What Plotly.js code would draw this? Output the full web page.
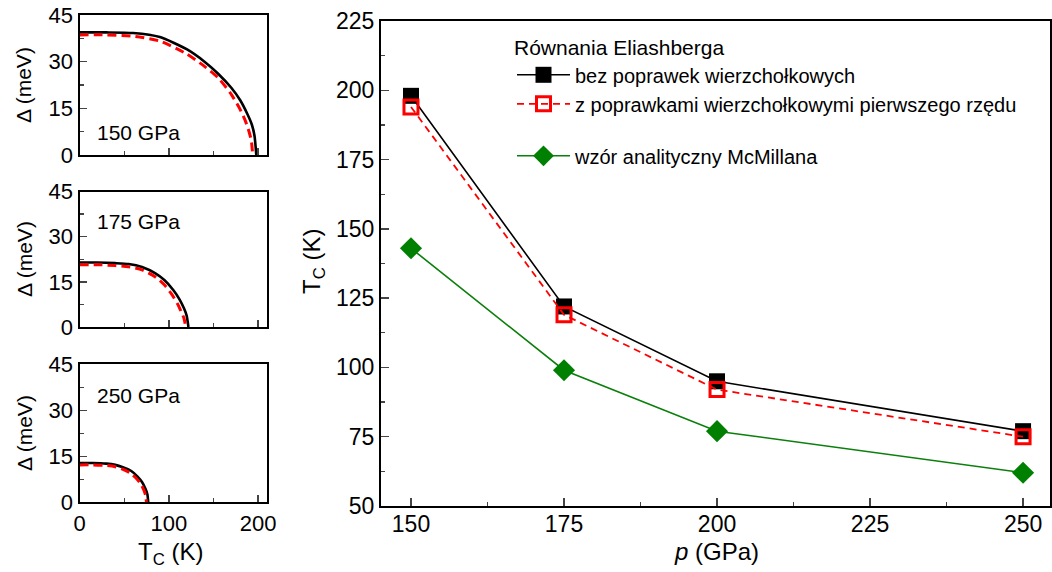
<!DOCTYPE html>
<html>
<head>
<meta charset="utf-8">
<script src="https://cdn.plot.ly/plotly-3.0.1.min.js"></script>
<style>html,body{margin:0;padding:0;background:#fff}#chart{width:1052px;height:572px}</style>
</head>
<body>
<div id="chart"></div>
<script>
// ---- Main panel data: Tc vs pressure ----
const pressure = [150, 175, 200, 250];
const tcNoVertex = [198, 122, 95, 77];
const tcVertex = [194, 119, 92, 75];
const tcMcMillan = [143, 99, 77, 62];

// ---- Gap vs temperature, 150 GPa ----
const T150_black = [0, 30, 60, 90, 120, 140, 155, 170, 180, 188, 193, 196, 198];
const D150_black = [39.4, 39.4, 39.2, 37.9, 34.0, 30.0, 26.2, 21.6, 17.6, 13.2, 9.8, 6.2, 0];
const T150_red = [0, 30, 60, 90, 120, 140, 155, 170, 180, 186, 190, 192.5, 194];
const D150_red = [38.6, 38.6, 38.2, 36.6, 32.5, 28.5, 24.9, 19.5, 14.6, 10.8, 7.4, 4.5, 0];

// ---- 175 GPa ----
const T175_black = [0, 20, 40, 55, 70, 85, 95, 105, 112, 117, 120, 122];
const D175_black = [21.4, 21.4, 21.2, 20.9, 19.9, 17.8, 15.6, 12.3, 9.2, 6.2, 3.8, 0];
const T175_red = [0, 20, 40, 55, 70, 85, 95, 103, 110, 114, 117, 119];
const D175_red = [20.7, 20.7, 20.4, 20.0, 19.0, 16.6, 14.0, 11.0, 7.6, 5.0, 2.9, 0];

// ---- 250 GPa ----
const T250_black = [0, 15, 30, 40, 50, 58, 65, 70, 74, 76, 77];
const D250_black = [12.8, 12.8, 12.6, 12.2, 11.3, 10.2, 8.4, 6.6, 4.3, 2.6, 0];
const T250_red = [0, 15, 30, 40, 50, 58, 64, 69, 72, 74, 75];
const D250_red = [12.2, 12.2, 12.0, 11.6, 10.6, 9.3, 7.7, 5.8, 4.0, 2.3, 0];

const panelLabels = ['150 GPa', '175 GPa', '250 GPa'];
const legendTitle = 'Równania Eliashberga';
const seriesNames = ['bez poprawek wierzchołkowych', 'z poprawkami wierzchołkowymi pierwszego rzędu', 'wzór analityczny McMillana'];

const FONT = 'Liberation Sans, Arial, sans-serif';
const W = 1052, H = 572;
const px = v => v / W;
const py = v => 1 - v / H;

const traces = [];
// left panels
const gapSets = [
  [T150_black, D150_black, T150_red, D150_red, 'x2', 'y2'],
  [T175_black, D175_black, T175_red, D175_red, 'x3', 'y3'],
  [T250_black, D250_black, T250_red, D250_red, 'x4', 'y4']
];
gapSets.forEach(s => {
  traces.push({x: s[0], y: s[1], xaxis: s[4], yaxis: s[5], mode: 'lines', showlegend: false,
    line: {color: '#000', width: 2.6, shape: 'spline', smoothing: 0.6}, hoverinfo: 'skip'});
  traces.push({x: s[2], y: s[3], xaxis: s[4], yaxis: s[5], mode: 'lines', showlegend: false,
    line: {color: '#ff0000', width: 3, dash: '9px,5px', shape: 'spline', smoothing: 0.6}, hoverinfo: 'skip'});
});

// main panel
traces.push({x: pressure, y: tcNoVertex, mode: 'lines+markers', name: seriesNames[0], legendgroup: 'a',
  line: {color: '#000', width: 1.6}, marker: {symbol: 'square', size: 16, color: '#000'}});
traces.push({x: pressure, y: tcVertex, mode: 'lines+markers', name: seriesNames[1], legendgroup: 'a',
  line: {color: '#ff0000', width: 1.8, dash: '7px,5px'},
  marker: {symbol: 'square-open', size: 14, color: '#ff0000', line: {color: '#ff0000', width: 3}}});
traces.push({x: pressure, y: tcMcMillan, mode: 'lines+markers', name: seriesNames[2], legendgroup: 'b',
  line: {color: '#0b7f0b', width: 1.6}, marker: {symbol: 'diamond', size: 17, color: '#008000'}});

const smallY = (dom) => ({
  domain: dom, range: [0, 45], tickvals: [0, 15, 30, 45], ticks: 'inside', ticklen: 7, tickwidth: 1.5,
  minor: {dtick: 7.5, ticks: 'inside', ticklen: 4, tickwidth: 1.2, tick0: 0},
  showline: true, mirror: true, linewidth: 2, linecolor: '#000', showgrid: false, zeroline: false,
  tickfont: {family: FONT, size: 22, color: '#000'}, fixedrange: true
});
const smallX = (anchor, labels) => ({
  domain: [px(79.5), px(267)], range: [0, 210], tickvals: [0, 100, 200], ticks: 'inside', ticklen: 7, tickwidth: 1.5,
  minor: {dtick: 50, ticks: 'inside', ticklen: 4, tickwidth: 1.2, tick0: 0},
  showline: true, mirror: true, linewidth: 2, linecolor: '#000', showgrid: false, zeroline: false,
  showticklabels: labels, anchor: anchor, tickfont: {family: FONT, size: 22, color: '#000'}, fixedrange: true
});

const ann = (text, x, y, size, angle, xa) => ({text: text, xref: 'paper', yref: 'paper', x: px(x), y: py(y),
  xanchor: xa || 'center', yanchor: 'middle', textangle: angle || 0, showarrow: false,
  font: {family: FONT, size: size, color: '#000'}});

const layout = {
  width: W, height: H, margin: {l: 0, r: 0, t: 0, b: 0},
  paper_bgcolor: '#fff', plot_bgcolor: '#fff',
  font: {family: FONT, color: '#000'},
  showlegend: true,
  legend: {x: px(512), y: py(28), xanchor: 'left', yanchor: 'top', bgcolor: 'rgba(0,0,0,0)',
    font: {family: FONT, size: 20, color: '#000'}, title: {text: legendTitle, font: {family: FONT, size: 21, color: '#000'}},
    traceorder: 'grouped', tracegroupgap: 23, itemwidth: 53},
  xaxis: {domain: [px(381), px(1050)], range: [145.1, 254.4], tickvals: [150, 175, 200, 225, 250],
    ticks: 'inside', ticklen: 8, tickwidth: 1.5, minor: {dtick: 12.5, tick0: 150, ticks: 'inside', ticklen: 4, tickwidth: 1.2},
    showline: true, mirror: true, linewidth: 2, linecolor: '#000', showgrid: false, zeroline: false,
    ticklabelstandoff: -4,
    tickfont: {family: FONT, size: 23, color: '#000'}, anchor: 'y', fixedrange: true},
  yaxis: {domain: [py(506), py(21)], range: [50, 225], tickvals: [50, 75, 100, 125, 150, 175, 200, 225],
    ticks: 'inside', ticklen: 8, tickwidth: 1.5, minor: {dtick: 12.5, tick0: 50, ticks: 'inside', ticklen: 4, tickwidth: 1.2},
    showline: true, mirror: true, linewidth: 2, linecolor: '#000', showgrid: false, zeroline: false,
    tickfont: {family: FONT, size: 23, color: '#000'}, anchor: 'x', fixedrange: true},
  xaxis2: smallX('y2', false), yaxis2: Object.assign(smallY([py(155), py(15)]), {anchor: 'x2'}),
  xaxis3: smallX('y3', false), yaxis3: Object.assign(smallY([py(327), py(191.5)]), {anchor: 'x3'}),
  xaxis4: smallX('y4', true), yaxis4: Object.assign(smallY([py(502.3), py(364.3)]), {anchor: 'x4'}),
  annotations: [
    ann(panelLabels[0], 95, 132, 21, 0, 'left'),
    ann(panelLabels[1], 95, 221, 21, 0, 'left'),
    ann(panelLabels[2], 95, 395, 21, 0, 'left'),
    ann('Δ (meV)', 24, 85, 21, -90),
    ann('Δ (meV)', 24, 259, 21, -90),
    ann('Δ (meV)', 24, 433, 21, -90),
    ann('T<sub>C</sub> (K)', 170, 553, 24, 0),
    ann('T<sub>C</sub> (K)', 313, 262, 24, -90),
    ann('<i>p</i> (GPa)', 716, 551, 24, 0)
  ]
};

Plotly.newPlot('chart', traces, layout, {staticPlot: true, displayModeBar: false});
</script>
</body>
</html>
